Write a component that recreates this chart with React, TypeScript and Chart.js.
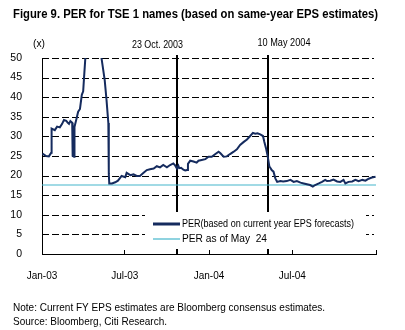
import React, { useEffect, useRef } from "react";
import { Chart, registerables } from "chart.js";

Chart.register(...registerables);

// ---- data ----
const perDates = [
  "2003-01-02", "2003-01-10", "2003-01-16", "2003-01-21", "2003-01-22", "2003-01-29",
  "2003-02-03", "2003-02-09", "2003-02-14", "2003-02-18", "2003-02-23", "2003-02-26",
  "2003-03-01", "2003-03-04", "2003-03-08", "2003-03-09", "2003-03-12", "2003-03-13",
  "2003-03-17", "2003-03-21", "2003-03-25", "2003-03-29", "2003-04-01", "2003-04-03",
  "2003-04-06", "2003-04-12", "2003-04-22", "2003-05-01", "2003-05-08", "2003-05-11",
  "2003-05-18", "2003-05-22", "2003-05-26", "2003-05-27", "2003-05-28", "2003-06-03",
  "2003-06-10", "2003-06-16", "2003-06-24", "2003-07-02", "2003-07-05", "2003-07-13",
  "2003-07-20", "2003-07-27", "2003-08-03", "2003-08-11", "2003-08-18", "2003-08-25",
  "2003-09-02", "2003-09-09", "2003-09-16", "2003-09-23", "2003-10-01", "2003-10-08",
  "2003-10-15", "2003-10-19", "2003-10-23", "2003-10-26", "2003-10-28", "2003-11-01",
  "2003-11-06", "2003-11-10", "2003-11-14", "2003-11-16", "2003-11-21", "2003-11-28",
  "2003-12-05", "2003-12-09", "2003-12-16", "2003-12-24", "2003-12-31", "2004-01-07",
  "2004-01-15", "2004-01-22", "2004-01-26", "2004-02-02", "2004-02-09", "2004-02-16",
  "2004-02-24", "2004-03-02", "2004-03-09", "2004-03-17", "2004-03-24", "2004-03-31",
  "2004-04-06", "2004-04-11", "2004-04-16", "2004-04-22", "2004-04-28", "2004-05-01",
  "2004-05-05", "2004-05-08", "2004-05-12", "2004-05-14", "2004-05-17", "2004-05-21",
  "2004-05-25", "2004-05-29", "2004-06-05", "2004-06-11", "2004-06-19", "2004-06-27",
  "2004-07-04", "2004-07-11", "2004-07-19", "2004-07-26", "2004-08-02", "2004-08-09",
  "2004-08-15", "2004-08-20", "2004-08-28", "2004-09-04", "2004-09-11", "2004-09-15",
  "2004-09-22", "2004-09-29", "2004-10-07", "2004-10-14", "2004-10-21", "2004-10-25",
  "2004-11-01", "2004-11-09", "2004-11-16", "2004-11-23", "2004-12-01", "2004-12-08",
  "2004-12-15", "2004-12-22", "2004-12-30",
];
const perValues = [
  25.6, 25.0, 24.9, 25.8, 32.0, 31.6,
  32.5, 32.3, 33.2, 34.2, 34.0, 33.5,
  33.2, 33.9, 33.5, 25.0, 24.8, 32.4,
  34.3, 36.3, 37.0, 40.6, 41.5, 45.2,
  50.5, 62.0, 78.0, 80.0, 66.0, 50.0,
  44.4, 39.3, 33.4, 20.5, 18.0, 18.0,
  18.3, 18.7, 19.9, 19.6, 20.7, 20.1,
  20.3, 19.9, 19.9, 20.7, 21.4, 21.6,
  21.8, 22.4, 22.1, 22.7, 22.1, 22.7,
  23.1, 22.6, 21.8, 22.5, 21.9, 22.0,
  21.5, 21.3, 21.4, 23.0, 23.8, 23.6,
  23.3, 23.8, 24.0, 24.2, 24.8, 24.8,
  25.5, 26.1, 25.7, 24.8, 24.9, 25.5,
  26.1, 26.7, 27.8, 28.6, 29.2, 30.1,
  30.9, 30.7, 30.8, 30.5, 30.1, 28.6,
  26.8, 25.1, 22.3, 22.0, 21.4, 21.0,
  19.3, 18.4, 18.6, 18.5, 18.6, 18.9,
  18.4, 18.6, 18.2, 18.0, 17.8, 17.6,
  17.2, 17.6, 18.0, 18.4, 18.9, 18.6,
  18.7, 19.0, 18.5, 18.4, 18.9, 18.0,
  18.4, 18.5, 18.9, 18.6, 18.9, 18.7,
  19.2, 19.5, 19.7,
];
const perAsOfMay24 = 17.6;

const axisStart = "2003-01-01";
const axisEnd = "2004-12-31";
const xTickDates = ["2003-01-01", "2003-07-01", "2004-01-01", "2004-07-01", "2004-12-31"];
const xTickLabels = ["Jan-03", "Jul-03", "Jan-04", "Jul-04", ""];
const yTicks = [0, 5, 10, 15, 20, 25, 30, 35, 40, 45, 50];

const eventDates = ["2003-10-23", "2004-05-10"];
const eventLabels = ["23 Oct. 2003", "10 May 2004"];

const seriesLabels = ["PER(based on current year EPS forecasts)", "PER as of May  24"];
const titleText = "Figure 9. PER for TSE 1 names (based on same-year EPS estimates)";
const unitText = "(x)";
const noteText = "Note: Current FY EPS estimates are Bloomberg consensus estimates.";
const sourceText = "Source: Bloomberg, Citi Research.";

// ---- helpers ----
const START = Date.parse(axisStart + "T00:00:00Z");
const dayOf = (s: string) => (Date.parse(s + "T00:00:00Z") - START) / 86400000;

const NAVY = "#152b5e";
const CYAN = "#45b6cb";
const FONT = "'Liberation Sans', Arial, sans-serif";

function fitText(ctx: CanvasRenderingContext2D, text: string, x: number, y: number, width: number, font: string) {
  ctx.save();
  ctx.font = font;
  const w = ctx.measureText(text).width;
  ctx.translate(x, y);
  ctx.scale(width / w, 1);
  ctx.textAlign = "left";
  ctx.textBaseline = "middle";
  ctx.fillStyle = "#000";
  ctx.fillText(text, 0, 0);
  ctx.restore();
}

const decorPlugin = {
  id: "decor",
  beforeDatasetsDraw(chart: any) {
    const ctx = chart.ctx as CanvasRenderingContext2D;
    const xs = chart.scales.x;
    const ys = chart.scales.y;
    const area = chart.chartArea;
    // dashed horizontal grid lines at the y scale's ticks
    ctx.save();
    ctx.strokeStyle = "#000";
    ctx.lineWidth = 1;
    ctx.setLineDash([7, 3]);
    ys.ticks.forEach((t: any) => {
      if (t.value === 0) return;
      const py = Math.round(ys.getPixelForValue(t.value)) + 0.5;
      ctx.beginPath();
      ctx.moveTo(area.left, py);
      ctx.lineTo(area.right - 2, py);
      ctx.stroke();
    });
    ctx.restore();
    // event vertical lines
    ctx.save();
    ctx.strokeStyle = "#000";
    ctx.lineWidth = 2;
    ctx.setLineDash([]);
    eventDates.forEach((d) => {
      const px = Math.round(xs.getPixelForValue(dayOf(d)));
      ctx.beginPath();
      ctx.moveTo(px, area.top - 3);
      ctx.lineTo(px, area.bottom);
      ctx.stroke();
    });
    ctx.restore();
    // legend box (inside plot)
    const lx = 145, ly = 212, lw = 221, lh = 37;
    ctx.save();
    ctx.fillStyle = "#fff";
    ctx.fillRect(lx, ly, lw, lh);
    const colors = [NAVY, CYAN];
    const widths = [3, 1.2];
    const rows = [224, 239];
    const textW = [172, 85];
    seriesLabels.forEach((lab, i) => {
      ctx.strokeStyle = colors[i];
      ctx.lineWidth = widths[i];
      ctx.beginPath();
      ctx.moveTo(153, rows[i]);
      ctx.lineTo(180, rows[i]);
      ctx.stroke();
      fitText(ctx, lab, 182, rows[i], textW[i], `11px ${FONT}`);
    });
    ctx.restore();
  },
  afterDraw(chart: any) {
    const ctx = chart.ctx as CanvasRenderingContext2D;
    const xs = chart.scales.x;
    fitText(ctx, titleText, 13, 15, 365, `bold 12.5px ${FONT}`);
    fitText(ctx, unitText, 33, 44, 12, `11px ${FONT}`);
    const offsets = [-45, -11];
    const widths = [51, 53];
    const ys = [44.5, 42.5];
    eventDates.forEach((d, i) => {
      const px = xs.getPixelForValue(dayOf(d));
      fitText(ctx, eventLabels[i], px + offsets[i], ys[i], widths[i], `11px ${FONT}`);
    });
    fitText(ctx, noteText, 13, 308, 312, `11px ${FONT}`);
    fitText(ctx, sourceText, 13, 322, 154, `11px ${FONT}`);
  },
};

export default function App() {
  const ref = useRef<HTMLCanvasElement | null>(null);
  useEffect(() => {
    if (!ref.current) return;
    const perPoints = perDates.map((d, i) => ({ x: dayOf(d), y: perValues[i] }));
    const refPoints = [
      { x: dayOf(axisStart), y: perAsOfMay24 },
      { x: dayOf(axisEnd), y: perAsOfMay24 },
    ];
    const tickVals = xTickDates.map(dayOf);
    const chart = new Chart(ref.current, {
      type: "line",
      data: {
        datasets: [
          {
            label: seriesLabels[0],
            data: perPoints,
            borderColor: NAVY,
            borderWidth: 2,
            pointRadius: 0,
            tension: 0,
          },
          {
            label: seriesLabels[1],
            data: refPoints,
            borderColor: CYAN,
            borderWidth: 1.2,
            pointRadius: 0,
            tension: 0,
          },
        ],
      },
      options: {
        animation: false,
        responsive: true,
        maintainAspectRatio: false,
        layout: { padding: { top: 58, right: 29, left: 0, bottom: 0 } },
        plugins: { legend: { display: false }, title: { display: false }, tooltip: { enabled: false } },
        scales: {
          x: {
            type: "linear",
            min: dayOf(axisStart),
            max: dayOf(axisEnd),
            afterBuildTicks: (scale: any) => {
              scale.ticks = tickVals.map((v) => ({ value: v }));
            },
            afterFit: (scale: any) => {
              scale.height = 76;
            },
            ticks: {
              autoSkip: false,
              maxRotation: 0,
              padding: 20,
              color: "#000",
              font: { family: FONT, size: 10 },
              callback: (v: any) => {
                const idx = tickVals.indexOf(Number(v));
                return idx >= 0 ? xTickLabels[idx] : "";
              },
            },
            grid: {
              drawOnChartArea: false,
              drawTicks: true,
              tickLength: -4,
              color: "#000",
              lineWidth: 1,
            },
            border: { display: true, color: "#000", width: 1 },
          },
          y: {
            min: 0,
            max: 50,
            afterBuildTicks: (scale: any) => {
              scale.ticks = yTicks.map((v) => ({ value: v }));
            },
            afterFit: (scale: any) => {
              scale.width = 42;
            },
            ticks: {
              padding: 12,
              color: "#000",
              font: { family: FONT, size: 10.5 },
            },
            grid: {
              display: false,
            },
            border: { display: true, color: "#000", width: 1 },
          },
        },
      },
      plugins: [decorPlugin],
    } as any);
    return () => chart.destroy();
  }, []);
  return (
    <div style={{ position: "fixed", left: 0, top: 0, width: 405, height: 330, background: "#fff" }}>
      <canvas ref={ref} />
    </div>
  );
}
